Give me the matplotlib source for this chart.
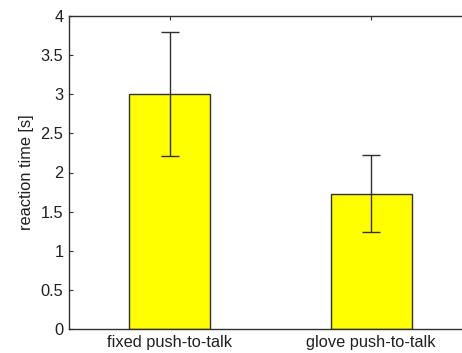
import matplotlib
matplotlib.use("Agg")
import matplotlib.pyplot as plt

# ── Data ──────────────────────────────────────────────────
conditions = ["fixed push-to-talk", "glove push-to-talk"]
reaction_time = [3.00, 1.73]
reaction_err = [0.79, 0.49]
yticks = [0, 0.5, 1, 1.5, 2, 2.5, 3, 3.5, 4]
ytick_labels = ["0", "0.5", "1", "1.5", "2", "2.5", "3", "3.5", "4"]

plt.rcParams["font.family"] = ["Liberation Sans", "DejaVu Sans"]

fig = plt.figure(figsize=(4.62, 3.53), dpi=100)
fig.patch.set_facecolor("white")
# axes run a bit past the right edge, like the cropped original
ax = fig.add_axes([69 / 462, 24 / 353, 403 / 462, 313 / 353])

xs = [1, 2]
ax.bar(xs, reaction_time, width=0.4, color="#ffff00",
       edgecolor="#303030", linewidth=1.0, zorder=2)
ax.errorbar(xs, reaction_time, yerr=reaction_err, fmt="none",
            ecolor="#303030", elinewidth=1.0, capsize=6.8,
            capthick=1.0, zorder=3)

ax.set_xlim(0.5, 2.5)
ax.set_ylim(0, 4)
ax.set_xticks(xs)
ax.set_xticklabels(conditions)
ax.set_yticks(yticks)
ax.set_yticklabels(ytick_labels)
ax.set_ylabel("reaction time [s]", fontsize=11.8, color="#202020", labelpad=5)

ax.tick_params(direction="in", length=3, width=0.8, colors="#303030",
               labelsize=11.8, labelcolor="#202020", top=True, right=True)
ax.tick_params(axis="x", pad=4)
ax.tick_params(axis="y", pad=4)
for s in ax.spines.values():
    s.set_color("#303030")
    s.set_linewidth(1.0)

fig.savefig("out.png", dpi=100)
